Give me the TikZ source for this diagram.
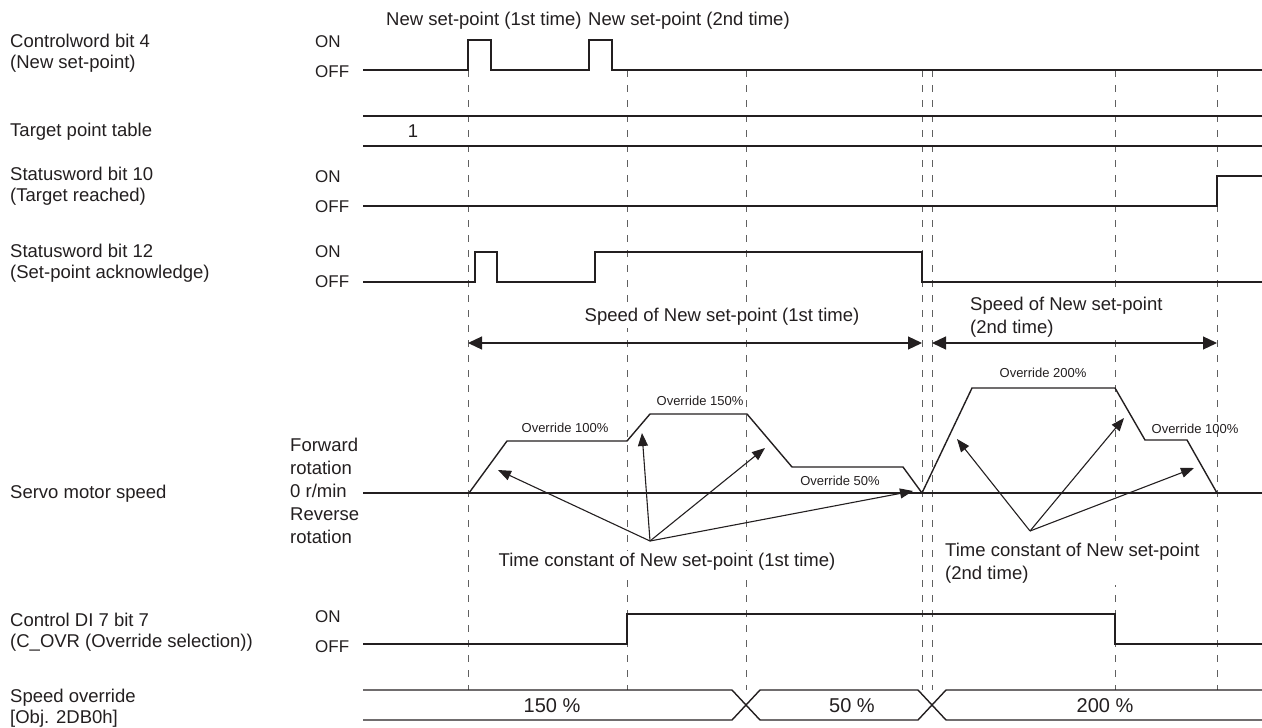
\documentclass[tikz,border=0pt]{standalone}
\usepackage{fontspec}
\setmainfont{Liberation Sans}
\usepackage{xcolor}
\definecolor{InkGray}{HTML}{231F20}
\definecolor{GuideGray}{HTML}{606060}
\usepackage{tikz}
\usetikzlibrary{arrows.meta}
\tikzset{
  signame/.style={
    anchor=west,
    align=left,
    inner sep=0pt,
    text=InkGray,
    font=\fontsize{18.5}{21}\selectfont
  },
  siglevel/.style={
    anchor=west,
    inner sep=0pt,
    text=InkGray,
    font=\fontsize{17}{20}\selectfont
  },
  signote/.style={
    align=left,
    fill=white,
    inner xsep=1pt,
    inner ysep=2pt,
    text=InkGray,
    font=\fontsize{18.5}{23}\selectfont
  },
  sigsmall/.style={
    inner sep=0pt,
    text=InkGray,
    font=\fontsize{13}{15}\selectfont
  },
  sigtrace/.style={
    draw=InkGray,
    line width=1.4pt
  },
  sigguide/.style={
    draw=GuideGray,
    line width=0.9pt,
    dash pattern=on 7pt off 8pt
  },
  sigspan/.style={
    draw=InkGray,
    line width=1.2pt,
    {Triangle[length=14pt,width=13pt]}-{Triangle[length=14pt,width=13pt]}
  },
  sigpoint/.style={
    draw=InkGray,
    line width=1.1pt,
    -{Triangle[length=13pt,width=10pt]}
  }
}

\begin{document}
\begin{tikzpicture}[x=1pt,y=-1pt]
  \useasboundingbox (0,0) rectangle (1262,728);
  % guide lines
  \foreach \tx in {468,627,746,922,932,1115,1217}{\draw[sigguide] (\tx,70) -- (\tx,690);}
  % signal names and levels
  \node[signame] (cw4) at (10,53) {Controlword bit 4\\(New set-point)};
  \node[signame] (tpt) at (10,132) {Target point table};
  \node[signame] (sw10) at (10,186) {Statusword bit 10\\(Target reached)};
  \node[signame] (sw12) at (10,263) {Statusword bit 12\\(Set-point acknowledge)};
  \node[signame] (speed) at (10,494) {Servo motor speed};
  \node[signame] (di7) at (10,632) {Control DI 7 bit 7\\(C\_OVR (Override selection))};
  \node[signame] (ovr) at (10,708) {Speed override\\{[Obj. 2DB0h]}};
  \node[siglevel] (cw4on) at (315,42) {ON};
  \node[siglevel] (cw4off) at (315,72) {OFF};
  \node[siglevel] (sw10on) at (315,177) {ON};
  \node[siglevel] (sw10off) at (315,207) {OFF};
  \node[siglevel] (sw12on) at (315,252) {ON};
  \node[siglevel] (sw12off) at (315,282) {OFF};
  \node[siglevel] (di7on) at (315,617) {ON};
  \node[siglevel] (di7off) at (315,647) {OFF};
  \node[signote, anchor=west, inner xsep=0pt] (rot) at (290,491) {Forward\\rotation\\0 r/min\\Reverse\\rotation};
  % waveforms
  \draw[sigtrace] (363,70) -- (468,70) -- (468,40) -- (491,40) -- (491,70) -- (589,70) -- (589,40) -- (612,40) -- (612,70) -- (1262,70);
  \draw[sigtrace] (363,116) -- (1262,116);
  \draw[sigtrace] (363,146) -- (1262,146);
  \draw[sigtrace] (363,206) -- (1217,206) -- (1217,176) -- (1262,176);
  \draw[sigtrace] (363,282) -- (475,282) -- (475,252) -- (497,252) -- (497,282) -- (595,282) -- (595,252) -- (922,252) -- (922,282) -- (1262,282);
  \draw[sigtrace] (363,493) -- (1262,493);
  \draw[sigtrace] (469,493) -- (507,441) -- (627,441) -- (650,414) -- (747,414) -- (792,467) -- (903,467) -- (922,493) -- (972,388) -- (1115,388) -- (1145,440) -- (1187,440) -- (1217,493);
  \draw[sigtrace] (363,644) -- (627,644) -- (627,614) -- (1115,614) -- (1115,644) -- (1262,644);
  \draw[sigtrace] (363,690) -- (732,690) -- (760,720) -- (918,720) -- (946,690) -- (1262,690);
  \draw[sigtrace] (363,720) -- (732,720) -- (760,690) -- (918,690) -- (946,720) -- (1262,720);
  % texts on the traces
  \node[signote, anchor=west] (new1) at (385,21) {New set-point (1st time)};
  \node[signote, anchor=west] (new2) at (587,21) {New set-point (2nd time)};
  \node[signote] (tbl1) at (413,131) {1};
  \node[signote] (spd1) at (722,317) {Speed of New set-point (1st time)};
  \node[signote, anchor=west] (spd2) at (969,317) {Speed of New set-point\\(2nd time)};
  \node[sigsmall] (ov100a) at (565,428) {Override 100\%};
  \node[sigsmall] (ov150) at (700,401) {Override 150\%};
  \node[sigsmall] (ov50) at (840,481) {Override 50\%};
  \node[sigsmall] (ov200) at (1043,373) {Override 200\%};
  \node[sigsmall] (ov100b) at (1195,429) {Override 100\%};
  \node[signote] (tc1text) at (667,562) {Time constant of New set-point (1st time)};
  \node[signote, anchor=west] (tc2text) at (944,563) {Time constant of New set-point\\(2nd time)};
  \node[signote, font=\fontsize{20}{23}\selectfont] (val150) at (552,706) {150 \%};
  \node[signote, font=\fontsize{20}{23}\selectfont] (val50) at (852,706) {50 \%};
  \node[signote, font=\fontsize{20}{23}\selectfont] (val200) at (1105,706) {200 \%};
  % speed spans
  \coordinate (span1a) at (468,343);
  \coordinate (span1b) at (922,343);
  \coordinate (span2a) at (932,343);
  \coordinate (span2b) at (1217,343);
  \draw[sigspan] (span1a) -- (span1b);
  \draw[sigspan] (span2a) -- (span2b);
  % time constant pointers
  \coordinate (tc1) at (650,541);
  \coordinate (tc1a) at (498,470);
  \coordinate (tc1b) at (642,433);
  \coordinate (tc1c) at (765,448);
  \coordinate (tc1d) at (913,491);
  \coordinate (tc2) at (1030,531);
  \coordinate (tc2a) at (957,439);
  \coordinate (tc2b) at (1124,418);
  \coordinate (tc2c) at (1194,468);
  \foreach \tip in {tc1a,tc1b,tc1c,tc1d}{\draw[sigpoint] (tc1) -- (\tip);}
  \foreach \tip in {tc2a,tc2b,tc2c}{\draw[sigpoint] (tc2) -- (\tip);}
\end{tikzpicture}
\end{document}
